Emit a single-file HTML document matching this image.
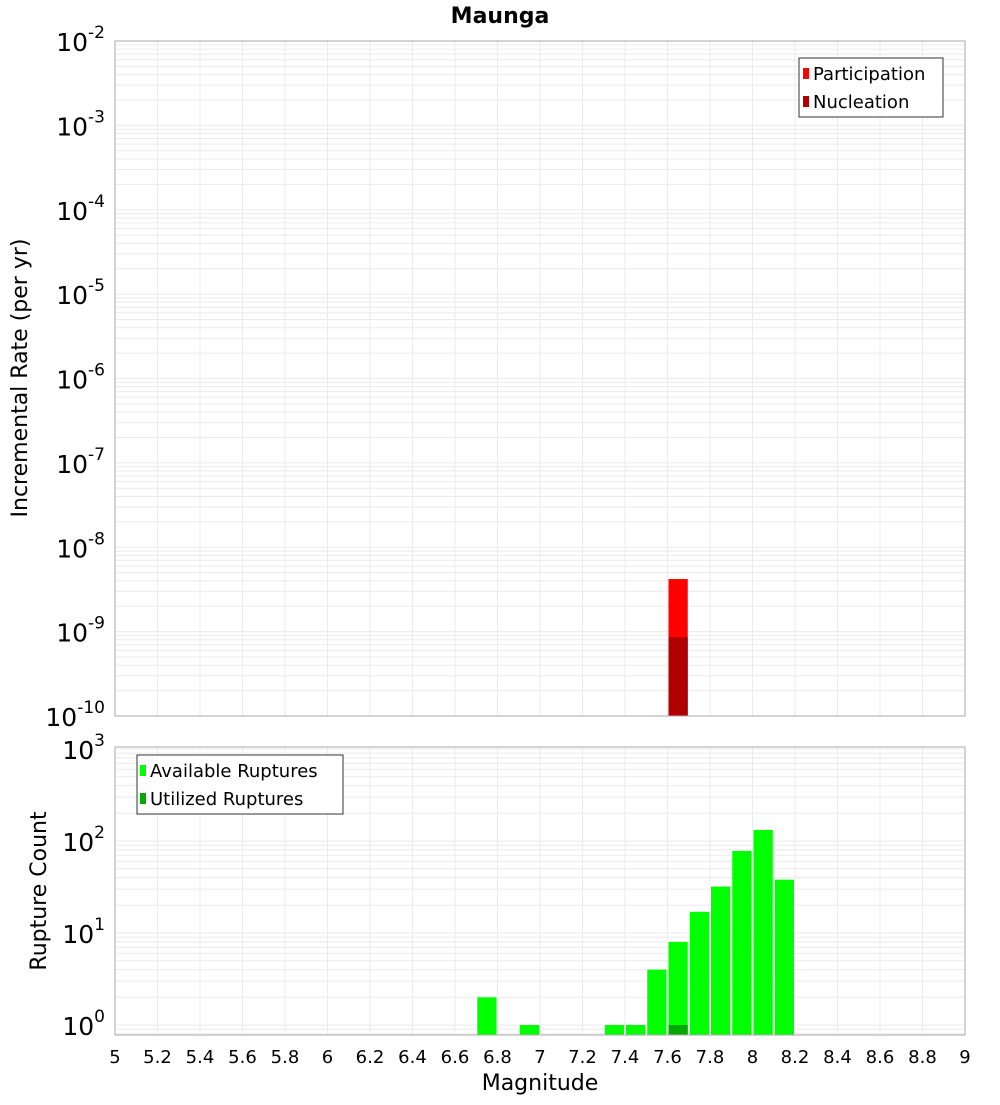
<!DOCTYPE html>
<html><head><meta charset="utf-8"><style>
body{margin:0;background:#fff;width:1000px;height:1100px;overflow:hidden}
svg{font-family:"Liberation Sans","DejaVu Sans",sans-serif}
</style></head><body>
<svg id="chart" width="1000" height="1100" xmlns="http://www.w3.org/2000/svg">
<text x="500" y="23" text-anchor="middle" font-size="22" font-weight="bold" font-family="DejaVu Sans, sans-serif">Maunga</text>
<g id="top"></g><g id="bot"></g>
<text transform="translate(27,378) rotate(-90)" text-anchor="middle" font-size="22" font-family="DejaVu Sans, sans-serif">Incremental Rate (per yr)</text>
<text transform="translate(46,891) rotate(-90)" text-anchor="middle" font-size="22" font-family="DejaVu Sans, sans-serif">Rupture Count</text>
<text x="540" y="1090" text-anchor="middle" font-size="22" font-family="DejaVu Sans, sans-serif">Magnitude</text>
<g>
<rect x="799" y="58" width="144" height="59" fill="#fff" stroke="#333" stroke-width="1"/>
<rect x="803" y="68" width="6" height="11" fill="#ff0000"/>
<text x="813" y="80" font-size="18" font-family="DejaVu Sans, sans-serif">Participation</text>
<rect x="803" y="96" width="6" height="11" fill="#b00000"/>
<text x="813" y="108" font-size="18" font-family="DejaVu Sans, sans-serif">Nucleation</text>
</g>
<g>
<rect x="137" y="755" width="206" height="59" fill="#fff" stroke="#333" stroke-width="1"/>
<rect x="140" y="765" width="6" height="11" fill="#00ff00"/>
<text x="150" y="777" font-size="18" font-family="DejaVu Sans, sans-serif">Available Ruptures</text>
<rect x="140" y="793" width="6" height="11" fill="#00aa00"/>
<text x="150" y="805" font-size="18" font-family="DejaVu Sans, sans-serif">Utilized Ruptures</text>
</g>
</svg>
<script>
const partMags=[7.65];
const partRates=[4.2e-9];
const nuclMags=[7.65];
const nuclRates=[8.6e-10];
const availMags=[6.75,6.95,7.35,7.45,7.55,7.65,7.75,7.85,7.95,8.05,8.15];
const availCounts=[2,1,1,1,4,8,17,32,78,132,38];
const utilMags=[7.65];
const utilCounts=[1];
const xTicks=["5","5.2","5.4","5.6","5.8","6","6.2","6.4","6.6","6.8","7","7.2","7.4","7.6","7.8","8","8.2","8.4","8.6","8.8","9"];
const topExps=[-2,-3,-4,-5,-6,-7,-8,-9,-10];
const botExps=[0,1,2,3];

const NS="http://www.w3.org/2000/svg";
const L=115,R=965;
const x=m=>L+(m-5)*(R-L)/4;
const yTop=v=>41+84.375*(-2-Math.log10(v));
const yBot=v=>1025-92*Math.log10(v);
function mk(p,t,a){const e=document.createElementNS(NS,t);for(const k in a)e.setAttribute(k,a[k]);p.appendChild(e);return e;}
function panel(g,top,bot,yf,loExp,hiExp,exps,name){
  const cp=mk(g,'clipPath',{id:'c'+name});mk(cp,'rect',{x:L,y:top,width:R-L,height:bot-top});
  const grid=mk(g,'g',{'clip-path':'url(#c'+name+')'});
  
  
  for(let e=loExp;e<=hiExp;e++)for(let k=1;k<10;k++){const yy=yf(k*Math.pow(10,e));if(yy>=top&&yy<=bot)mk(grid,'line',{x1:L,x2:R,y1:yy,y2:yy,stroke:'#ebebeb','stroke-width':1});}
  xTicks.forEach(t=>{const xx=x(+t);mk(grid,'line',{x1:xx,x2:xx,y1:top,y2:bot,stroke:'#ebebeb','stroke-width':1});});
  exps.forEach(e=>{const yy=yf(Math.pow(10,e));const t=mk(g,'text',{x:105,y:yy+10,'text-anchor':'end','font-size':25,'font-family':'DejaVu Sans, sans-serif'});
    
    
    t.textContent='10';const s=mk(t,'tspan',{dy:-13,'font-size':17});s.textContent=String(e);});
  return grid;
}
function bars(grid,mags,vals,yf,bot,color,name){
  mags.forEach((m,i)=>{const y0=yf(vals[i]);const r=mk(grid,'rect',{x:x(m-0.05)+1,y:y0,width:x(m+0.05)-x(m-0.05)-2,height:bot-y0,fill:color});
    
    });
}
const tg=document.getElementById('top'),bg=document.getElementById('bot');
const g1=panel(tg,41,716,yTop,-11,-2,topExps,'top');
bars(g1,partMags,partRates,yTop,716,'#ff0000','participation-bar');
bars(g1,nuclMags,nuclRates,yTop,716,'#b00000','nucleation-bar');
mk(tg,'rect',{x:L,y:41,width:R-L,height:675,fill:'none',stroke:'#aaa','stroke-width':1});
const g2=panel(bg,747,1035,yBot,-1,3,botExps,'bottom');
bars(g2,availMags,availCounts,yBot,1035,'#00ff00','available-bar');
bars(g2,utilMags,utilCounts,yBot,1035,'#00aa00','utilized-bar');
mk(bg,'rect',{x:L,y:747,width:R-L,height:288,fill:'none',stroke:'#aaa','stroke-width':1});
xTicks.forEach(t=>{const e=mk(bg,'text',{x:x(+t),y:1063,'text-anchor':'middle','font-size':18,'font-family':'DejaVu Sans, sans-serif'});
  
  
  e.textContent=t;});
</script>
</body></html>
